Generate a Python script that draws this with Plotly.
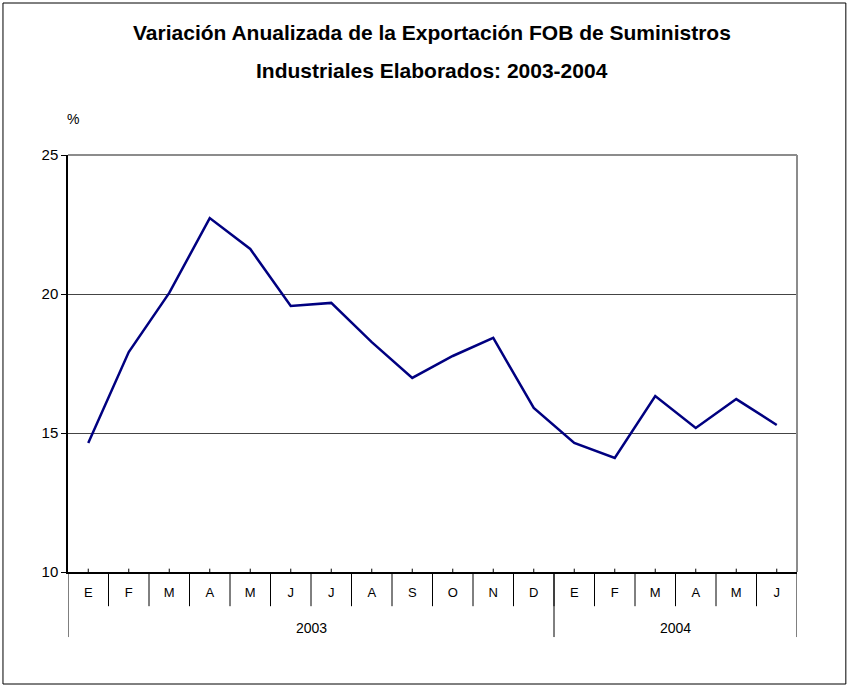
import plotly.graph_objects as go

months = ["E", "F", "M", "A", "M", "J", "J", "A", "S", "O", "N", "D",
          "E", "F", "M", "A", "M", "J"]
years = ["2003", "2004"]
year_sizes = [12, 6]
variacion = [14.64, 17.91, 20.04, 22.73, 21.62, 19.57, 19.68, 18.27, 16.98,
             17.77, 18.42, 15.90, 14.64, 14.10, 16.33, 15.18, 16.22, 15.29]
title_lines = ["Variación Anualizada de la Exportación FOB de Suministros",
               "Industriales Elaborados: 2003-2004"]

x_idx = list(range(len(months)))
fig = go.Figure()
fig.add_trace(go.Scatter(x=x_idx, y=variacion, mode='lines',
                         line=dict(color='#000080', width=2.5), showlegend=False))

shapes = []
annotations = []
# year separators and labels
start = 0
bounds = [-0.5]
for yr, n in zip(years, year_sizes):
    annotations.append(dict(x=start + (n - 1) / 2, y=-0.134, xref='x', yref='paper',
                            yanchor='middle', text=yr, showarrow=False,
                            font=dict(size=14, color='black')))
    start += n
    bounds.append(start - 0.5)
for b in bounds:
    shapes.append(dict(type='line', xref='x', yref='paper', x0=b, x1=b, y0=0, y1=-0.156,
                       line=dict(color='black', width=1)))
# month separators
for i in range(len(months) - 1):
    shapes.append(dict(type='line', xref='x', yref='paper', x0=i + 0.5, x1=i + 0.5,
                       y0=0, y1=-0.082, line=dict(color='black', width=1)))
# small tick marks at category centres
for i in x_idx:
    shapes.append(dict(type='line', xref='x', yref='paper', x0=i, x1=i,
                       y0=0, y1=0.008, line=dict(color='black', width=1)))
# grey top and right border of plot
shapes.append(dict(type='line', xref='paper', yref='paper', x0=1, x1=1, y0=0, y1=1,
                   line=dict(color='#8c8c8c', width=2)))
shapes.append(dict(type='line', xref='paper', yref='paper', x0=0, x1=1, y0=1, y1=1,
                   line=dict(color='#8c8c8c', width=2)))
# outer frame
shapes.append(dict(type='rect', xref='paper', yref='paper', x0=-0.0892, x1=1.067,
                   y0=-0.2686, y1=1.3645, line=dict(color='black', width=1)))

annotations.append(dict(x=-0.004, y=1.086, xref='paper', yref='paper', text='%',
                        showarrow=False, yanchor='middle',
                        font=dict(size=14, color='black')))
for txt, ty in zip(title_lines, [1.2926, 1.2038]):
    annotations.append(dict(x=0.4993, y=ty, xref='paper', yref='paper',
                            text='<b>' + txt + '</b>', showarrow=False,
                            xanchor='center', yanchor='middle',
                            font=dict(size=21, color='black')))

fig.update_layout(
    width=848, height=686,
    margin=dict(l=68, r=51, t=155, b=114),
    paper_bgcolor='white', plot_bgcolor='white',
    font=dict(family='Liberation Sans, Arial', color='black'),
    xaxis=dict(range=[-0.5, len(months) - 0.5], tickmode='array', tickvals=x_idx,
               ticktext=months, showgrid=False, zeroline=False,
               showline=True, linecolor='black', linewidth=1.5,
               ticks='', tickfont=dict(size=13, color='black'), ticklabelstandoff=8),
    yaxis=dict(range=[10, 25], tickvals=[10, 15, 20, 25], showgrid=True,
               gridcolor='#444444', gridwidth=1, zeroline=False,
               showline=True, linecolor='black', linewidth=1.5,
               ticks='outside', ticklen=5, tickcolor='black',
               tickfont=dict(size=15, color='black')),
    shapes=shapes, annotations=annotations,
)

fig.write_html("out.html", config={'displayModeBar': False},
               post_script="document.body.style.margin='0';")
